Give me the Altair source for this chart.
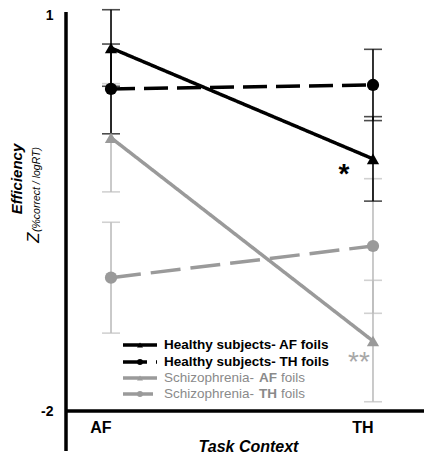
import altair as alt
import pandas as pd

# ---------------- data ----------------
contexts = ["AF", "TH"]
series_names = [
    "Healthy subjects- AF foils",
    "Healthy subjects- TH foils",
    "Schizophrenia- AF foils",
    "Schizophrenia- TH foils",
]
groups = ["Healthy", "Healthy", "Schizophrenia", "Schizophrenia"]
means = [
    [0.75, -0.09],
    [0.44, 0.47],
    [0.07, -1.47],
    [-0.99, -0.75],
]
errors = [
    [0.29, 0.32],
    [0.34, 0.27],
    [0.41, 0.46],
    [0.42, 0.51],
]
y_ticks = [-2, 1]
legend_parts = [
    ("Healthy subjects- AF foils", None),
    ("Healthy subjects- TH foils", None),
    ("Schizophrenia- ", "AF"),
    ("Schizophrenia- ", "TH"),
]
annot_text = ["*", "**"]
annot_series = [0, 2]
annot_context = ["TH", "TH"]

FONT = "Liberation Sans"
line_colors = ["#000000", "#000000", "#9a9a9a", "#9a9a9a"]
dashes = [[1, 0], [24, 9], [1, 0], [30, 10]]
shapes = ["triangle-up", "circle", "triangle-up", "circle"]

rows = []
for s, g, ms, es in zip(series_names, groups, means, errors):
    for c, m, e in zip(contexts, ms, es):
        rows.append({"series": s, "group": g, "context": c, "mean": m,
                     "lo": m - e, "hi": m + e})
df = pd.DataFrame(rows)

W, H = 352, 396
xscale = alt.Scale(type="point", domain=contexts, padding=0.1718)
yscale = alt.Scale(domain=[-2, 1], nice=False, zero=False)

x_enc = alt.X("context:N", scale=xscale, sort=contexts,
              axis=alt.Axis(title="Task Context", labelAngle=0, ticks=False, domain=False,
                            labelFont=FONT, labelFontSize=16, labelFontWeight="bold",
                            labelColor="black", labelPadding=16,
                            titleFont=FONT, titleFontSize=16, titleFontWeight="bold",
                            titleFontStyle="italic", titleColor="black", titlePadding=3,
                            titleX=182))
y_enc = alt.Y("mean:Q", scale=yscale,
              axis=alt.Axis(title=None, values=y_ticks, ticks=False, domain=False, grid=False,
                            labelExpr="datum.value == 1 ? '1' : '-2'",
                            labelFont=FONT, labelFontSize=14, labelFontWeight="bold",
                            labelColor="black", labelPadding=13))

color_s = alt.Color("series:N", scale=alt.Scale(domain=series_names, range=line_colors), legend=None)
dash_s = alt.StrokeDash("series:N", scale=alt.Scale(domain=series_names, range=dashes), legend=None)
shape_s = alt.Shape("series:N", scale=alt.Scale(domain=series_names, range=shapes), legend=None)

base = alt.Chart(df)

err_layers = []
for g, col in [("Schizophrenia", "#bdbdbd"), ("Healthy", "#000000")]:
    b = base.transform_filter(alt.datum.group == g)
    err_layers.append(b.mark_rule(color=col, strokeWidth=1.6).encode(
        x=alt.X("context:N", scale=xscale, sort=contexts),
        y=alt.Y("lo:Q", scale=yscale), y2="hi:Q"))
    err_layers.append(b.mark_tick(color=col, size=18, thickness=1.6).encode(
        x=alt.X("context:N", scale=xscale, sort=contexts), y=alt.Y("lo:Q", scale=yscale)))
    err_layers.append(b.mark_tick(color=col, size=18, thickness=1.6).encode(
        x=alt.X("context:N", scale=xscale, sort=contexts), y=alt.Y("hi:Q", scale=yscale)))

lines = base.mark_line(strokeWidth=3.5).encode(
    x=x_enc, y=y_enc, color=color_s, strokeDash=dash_s, detail="series:N")
points = base.mark_point(filled=True, size=150, opacity=1).encode(
    x=alt.X("context:N", scale=xscale, sort=contexts),
    y=alt.Y("mean:Q", scale=yscale), color=color_s, shape=shape_s)

# axis lines
one = pd.DataFrame({"k": [0]})
yaxis_line = alt.Chart(one).mark_rule(color="black", strokeWidth=3.5).encode(
    x=alt.value(0), y=alt.value(-3), y2=alt.value(436))
xaxis_line = alt.Chart(one).mark_rule(color="black", strokeWidth=3.5).encode(
    x=alt.value(0), x2=alt.value(362), y=alt.value(H))

# y title
ytitle = alt.Chart(one).mark_text(font=FONT, fontSize=15, fontWeight="bold", fontStyle="italic",
                                  angle=270, align="center", baseline="middle", color="black").encode(
    x=alt.value(-49), y=alt.value(164), text=alt.value("Efficiency"))
ztitle = alt.Chart(one).mark_text(font=FONT, fontSize=17, fontStyle="italic",
                                  angle=270, align="left", baseline="middle", color="black").encode(
    x=alt.value(-32), y=alt.value(228), text=alt.value("Z"))
zsub = alt.Chart(one).mark_text(font=FONT, fontSize=10.5, fontStyle="italic",
                                angle=270, align="left", baseline="middle", color="black").encode(
    x=alt.value(-29), y=alt.value(217), text=alt.value("(%correct / logRT)"))

# legend
leg_y = [330, 347, 363, 379]
leg_layers = []
for i in range(4):
    col = line_colors[i]
    leg_layers.append(alt.Chart(one).mark_rule(color=col, strokeWidth=3.5, strokeDash=dashes[i]).encode(
        x=alt.value(57), x2=alt.value(91), y=alt.value(leg_y[i])))
    leg_layers.append(alt.Chart(one).mark_point(filled=True, opacity=1, size=35, shape=shapes[i],
                                               color=col).encode(
        x=alt.value(74), y=alt.value(leg_y[i])))
    main, bold = legend_parts[i]
    if bold is None:
        leg_layers.append(alt.Chart(one).mark_text(font=FONT, fontSize=13.5, fontWeight="bold",
                                                  align="left", baseline="middle", color="black").encode(
            x=alt.value(98), y=alt.value(leg_y[i]), text=alt.value(main)))
    else:
        tc = "#8a8a8a"
        leg_layers.append(alt.Chart(one).mark_text(font=FONT, fontSize=13.5, align="left",
                                                  baseline="middle", color=tc).encode(
            x=alt.value(98), y=alt.value(leg_y[i]), text=alt.value(main)))
        leg_layers.append(alt.Chart(one).mark_text(font=FONT, fontSize=13.5, fontWeight="bold",
                                                  align="left", baseline="middle", color=tc).encode(
            x=alt.value(193), y=alt.value(leg_y[i]), text=alt.value(bold)))
        leg_layers.append(alt.Chart(one).mark_text(font=FONT, fontSize=13.5, align="left",
                                                  baseline="middle", color=tc).encode(
            x=alt.value(215), y=alt.value(leg_y[i]), text=alt.value("foils")))

# significance stars
ann = pd.DataFrame({
    "context": annot_context,
    "mean": [means[s][contexts.index(c)] for s, c in zip(annot_series, annot_context)],
    "label": annot_text,
})
star1 = alt.Chart(ann.iloc[[0]]).mark_text(font=FONT, fontSize=28, fontWeight="bold", color="black",
                                           dx=-29, dy=24, align="center", baseline="alphabetic").encode(
    x=alt.X("context:N", scale=xscale, sort=contexts), y=alt.Y("mean:Q", scale=yscale), text="label:N")
star2 = alt.Chart(ann.iloc[[1]]).mark_text(font=FONT, fontSize=28, color="#a8a8a8",
                                           dx=-14, dy=30, align="center", baseline="alphabetic").encode(
    x=alt.X("context:N", scale=xscale, sort=contexts), y=alt.Y("mean:Q", scale=yscale), text="label:N")

chart = alt.layer(
    *err_layers, lines, points, yaxis_line, xaxis_line, ytitle, ztitle, zsub,
    *leg_layers, star1, star2
).properties(
    width=W, height=H,
    autosize=alt.AutoSizeParams(type="none"),
    padding={"left": 58, "top": 7, "right": 6, "bottom": 45},
    background="white",
).configure_view(stroke=None)

chart.save("out.html", embed_options={"renderer": "svg", "actions": False})
